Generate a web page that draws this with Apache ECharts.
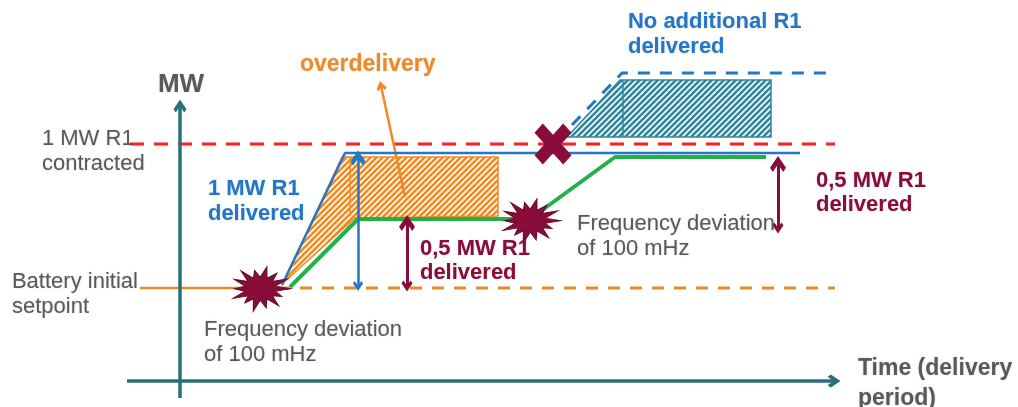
<!DOCTYPE html>
<html>
<head>
<meta charset="utf-8">
<script src="https://cdn.jsdelivr.net/npm/echarts@6/dist/echarts.min.js"></script>
<style>
  html, body { margin: 0; padding: 0; background: #fff; }
  #chart { width: 1018px; height: 407px; }
</style>
</head>
<body>
<div id="chart"></div>
<script>
// diagram laid out on a 1018 x 407 value grid (y grows downward)
const contracted = [[130, 144], [835, 144]];
const setpointSolid = [[140, 288], [278, 288]];
const setpointDashed = [[278, 288], [835, 288]];
const fullResponse = [[282, 285], [345, 153], [800, 153]];
const halfResponse = [[290, 287], [358, 219], [530, 219], [615, 157], [766, 157]];
const noExtra = [[572, 125], [622, 73], [833, 73]];
const overArea = [[283, 283], [342, 157], [498, 157], [498, 216], [355, 218]];
const overDivider = [[350, 157], [350, 216]];
const extraArea = [[567, 137], [620, 80], [771, 80], [771, 137]];
const extraDivider = [[623, 80], [623, 137]];
const events = [[262, 289], [532, 221]];
const cancelled = [[553, 144]];
const axisArrows = [[[180, 398], [180, 106]], [[127, 381], [834, 381]]];
const blueSpan = [[[358, 158], [358, 286]]];
const redSpans = [[[407, 223], [407, 286]], [[778, 164], [778, 228]]];
const pointer = [[[405, 197], [381, 86]]];
const notes = [
  ['MW', 158, 71, 'axis'],
  ['overdelivery', 300, 52, 'orange'],
  ['No additional R1\ndelivered', 628, 9, 'blue'],
  ['1 MW R1\ncontracted', 42, 126, 'gray'],
  ['Battery initial\nsetpoint', 12, 269, 'gray'],
  ['1 MW R1\ndelivered', 208, 176, 'blue'],
  ['0,5 MW R1\ndelivered', 420, 237, 'red'],
  ['Frequency deviation\nof 100 mHz', 204, 317, 'gray'],
  ['Frequency deviation\nof 100 mHz', 577, 211, 'gray'],
  ['0,5 MW R1\ndelivered', 816, 169, 'red'],
  ['Time (delivery\nperiod)', 858, 354, 'time']
];

const ORANGE = '#f08a24', BLUE = '#2277c8', GREEN = '#22b04b', RED = '#ff1f1f';
const MAROON = '#8a0c3a', TEAL = '#27707a', HATCH_TEAL = '#31869a', GRAY = '#595959';

function hatch(color) {
  const c = document.createElement('canvas');
  c.width = c.height = 6;
  const g = c.getContext('2d');
  g.fillStyle = '#fff';
  g.fillRect(0, 0, 6, 6);
  g.strokeStyle = color;
  g.lineWidth = 2.6;
  g.beginPath();
  g.moveTo(-1, 7); g.lineTo(7, -1);
  g.moveTo(-1, 1); g.lineTo(1, -1);
  g.moveTo(5, 7); g.lineTo(7, 5);
  g.stroke();
  return { image: c, repeat: 'repeat' };
}

function burstPath() {
  const outer = [10, 7.8, 9.6, 8.6, 10, 8.0, 9.8, 8.4, 9.4, 10, 8.1, 9.7, 8.7, 9.9];
  const n = outer.length;
  let d = 'path://';
  for (let i = 0; i < n * 2; i++) {
    const a = i * Math.PI / n;
    const r = i % 2 ? 5.0 : outer[i / 2];
    d += (i ? 'L' : 'M') + (10 + r * Math.cos(a)).toFixed(2) + ',' + (10 + r * Math.sin(a)).toFixed(2);
  }
  return d + 'Z';
}
const crossPath = 'path://M0,4.5L4.5,0L10,5.5L15.5,0L20,4.5L14.5,10L20,15.5L15.5,20L10,14.5L4.5,20L0,15.5L5.5,10Z';
// open arrow head, drawn pointing up; the lines series turns it along the line
const chevron = 'path://M0,10L10,0L20,10L16.5,13.5L10,7L3.5,13.5Z';

const textStyles = {
  gray: { color: GRAY, fontSize: 22, fontWeight: 'normal', lineHeight: 25 },
  axis: { color: GRAY, fontSize: 26, fontWeight: 'bold', lineHeight: 27 },
  time: { color: GRAY, fontSize: 23, fontWeight: 'bold', lineHeight: 30 },
  blue: { color: BLUE, fontSize: 22, fontWeight: 'bold', lineHeight: 25 },
  red: { color: MAROON, fontSize: 22, fontWeight: 'bold', lineHeight: 24 },
  orange: { color: ORANGE, fontSize: 23, fontWeight: 'bold', lineHeight: 25 }
};

function line(data, color, width, type, z) {
  return {
    type: 'line', data: data, symbol: 'none', z: z || 3, silent: true,
    lineStyle: { color: color, width: width, type: type || 'solid' }
  };
}

function area(points, divider, color) {
  return {
    type: 'custom', z: 2, silent: true, data: [[0, 0]],
    renderItem: function (params, api) {
      return {
        type: 'group',
        children: [
          { type: 'polygon', shape: { points: points.map(p => api.coord(p)) },
            style: { fill: hatch(color), stroke: color, lineWidth: 1.5 } },
          { type: 'polyline', shape: { points: divider.map(p => api.coord(p)) },
            style: { fill: null, stroke: color, lineWidth: 1.5 } }
        ]
      };
    }
  };
}

function arrows(spans, color, width, both, size) {
  return {
    type: 'lines', coordinateSystem: 'cartesian2d', z: 4, silent: true,
    symbol: [both ? chevron : 'none', chevron], symbolSize: size,
    lineStyle: { color: color, width: width, opacity: 1, curveness: 0 },
    data: spans.map(s => ({ coords: s }))
  };
}

const chart = echarts.init(document.getElementById('chart'));
chart.setOption({
  animation: false,
  grid: { left: 0, right: 0, top: 0, bottom: 0 },
  xAxis: { type: 'value', min: 0, max: 1018, show: false },
  yAxis: { type: 'value', min: 0, max: 407, inverse: true, show: false },
  series: [
    area(overArea, overDivider, ORANGE),
    area(extraArea, extraDivider, HATCH_TEAL),
    line(contracted, RED, 3, [14, 10]),
    line(setpointSolid, ORANGE, 2.5),
    line(setpointDashed, ORANGE, 3, [12, 10]),
    line(fullResponse, BLUE, 2.5, 'solid', 5),
    line(halfResponse, GREEN, 4),
    line(noExtra, BLUE, 3, [12, 10]),
    arrows(axisArrows, TEAL, 3.5, false, [19, 13]),
    arrows(blueSpan, BLUE, 2.5, true, [15, 10]),
    arrows(redSpans, MAROON, 3, true, [16, 11]),
    arrows(pointer, ORANGE, 2.5, false, [15, 10]),
    {
      type: 'scatter', z: 6, silent: true, data: events,
      symbol: burstPath(), symbolSize: [58, 44],
      itemStyle: { color: MAROON, opacity: 1, borderColor: '#6a0826', borderWidth: 1 }
    },
    {
      type: 'scatter', z: 6, silent: true, data: cancelled,
      symbol: crossPath, symbolSize: [37, 41],
      itemStyle: { color: MAROON, opacity: 1 }
    },
    {
      type: 'scatter', z: 7, silent: true, symbolSize: 0.1,
      itemStyle: { color: 'rgba(0,0,0,0)', opacity: 1 },
      data: notes.map(n => ({
        value: [n[1], n[2]],
        label: Object.assign({
          show: true, position: [0, 0], align: 'left', verticalAlign: 'top', opacity: 1,
          fontFamily: '"Liberation Sans", Arial, sans-serif', formatter: n[0],
          textShadowColor: 'rgba(0,0,0,0.18)', textShadowBlur: 2
        }, textStyles[n[3]])
      }))
    }
  ]
});
</script>
</body>
</html>
